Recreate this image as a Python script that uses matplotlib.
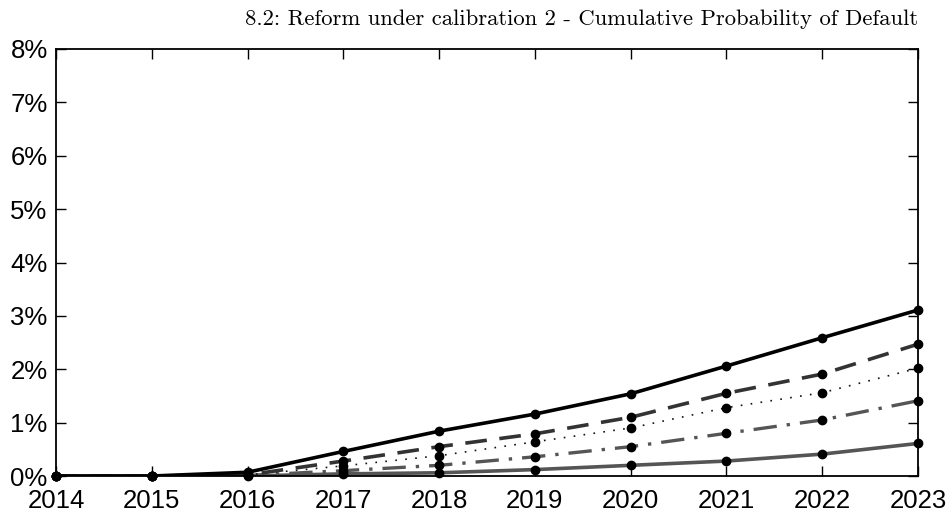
import matplotlib
matplotlib.use("Agg")
import matplotlib.pyplot as plt
from matplotlib.ticker import FuncFormatter

years = [2014, 2015, 2016, 2017, 2018, 2019, 2020, 2021, 2022, 2023]
s_top = [0.0, 0.0, 0.07, 0.46, 0.84, 1.16, 1.54, 2.06, 2.59, 3.11]
s_dash = [0.0, 0.0, 0.02, 0.28, 0.55, 0.79, 1.10, 1.55, 1.91, 2.47]
s_dot = [0.0, 0.0, 0.02, 0.19, 0.38, 0.64, 0.90, 1.28, 1.56, 2.02]
s_dashdot = [0.0, 0.0, 0.01, 0.10, 0.20, 0.36, 0.55, 0.80, 1.05, 1.41]
s_low = [0.0, 0.0, 0.0, 0.04, 0.06, 0.12, 0.20, 0.28, 0.41, 0.61]
title = "8.2: Reform under calibration 2 - Cumulative Probability of Default"

fig = plt.figure(figsize=(9.53, 5.16), dpi=100)
ax = fig.add_axes([56/953, 1-476/516, (918-56)/953, (476-49)/516])

styles = [
    (s_low, dict(color="#555555", ls="-", lw=2.6)),
    (s_dashdot, dict(color="#555555", ls=(0, (7, 3, 1, 3)), lw=2.4)),
    (s_dot, dict(color="#111111", ls=(0, (1, 5)), lw=1.2)),
    (s_dash, dict(color="#333333", ls=(0, (6, 3.5)), lw=2.6)),
    (s_top, dict(color="black", ls="-", lw=2.6)),
]
for vals, st in styles:
    ax.plot(years, vals, **st)
    ax.plot(years, vals, ls="none", marker="o", ms=6, color="black", zorder=5, clip_on=False)

ax.set_xlim(2014, 2023)
ax.set_ylim(0, 8)
ax.set_xticks(years)
ax.set_yticks(range(0, 9))
ax.yaxis.set_major_formatter(FuncFormatter(lambda v, p: f"{int(round(v))}%"))
for lab in ax.get_xticklabels() + ax.get_yticklabels():
    lab.set_fontfamily("Liberation Sans")
    lab.set_fontsize(18.5)
ax.tick_params(direction="in", length=7, width=1, top=True, right=True)
ax.tick_params(axis="x", pad=9.5)
ax.tick_params(axis="y", pad=6)
for sp in ax.spines.values():
    sp.set_linewidth(1.3)
ax.set_title(title, loc="right", fontfamily="cmr10", fontsize=16.3, pad=17)

fig.savefig("out.png", dpi=100)
